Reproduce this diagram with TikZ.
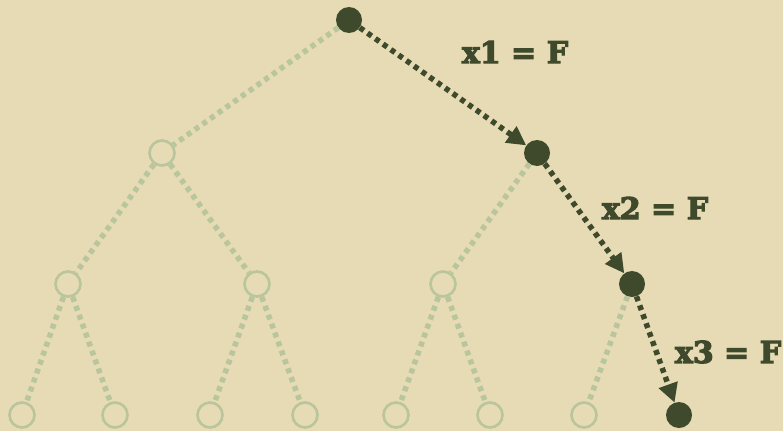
\documentclass[tikz,border=0pt]{standalone}
\usepackage{fontspec}
\newfontfamily\labelfont[BoldFeatures={FakeBold=4}]{DejaVu Serif}
\usepackage{tikz}
\usetikzlibrary{arrows.meta}
\definecolor{paper}{HTML}{E6DBB5}
\definecolor{moss}{HTML}{3E4A2B}
\definecolor{sage}{HTML}{B9C59C}

\begin{document}
\begin{tikzpicture}[
            x=1pt, y=-1pt,
            open/.style={circle, draw=sage, line width=2.6pt, fill=paper, minimum size=25pt, inner sep=0pt},
            taken/.style={circle, fill=moss, minimum size=26pt, inner sep=0pt},
            branch/.style={sage, line width=5.5pt, dash pattern=on 5pt off 4.5pt},
            chosen/.style={moss, line width=5.5pt, dash pattern=on 5pt off 4.5pt, -{Triangle[length=19pt, width=19pt]}},
            choice/.style={font=\labelfont\bfseries\fontsize{30}{33}\selectfont, text=moss, inner sep=0pt}
        ]
        \fill [paper] (0,0) rectangle (783,431);
        \useasboundingbox (0,0) rectangle (783,431);
        % nodes
        \node [taken] (root) at (349,20) {};
        \node [open] (l) at (162,153) {};
        \node [taken] (r) at (537,153) {};
        \node [open] (ll) at (68,284) {};
        \node [open] (lr) at (257,284) {};
        \node [open] (rl) at (443,284) {};
        \node [taken] (rr) at (632,284) {};
        \node [open] (lll) at (22,415) {};
        \node [open] (llr) at (115,415) {};
        \node [open] (lrl) at (210,415) {};
        \node [open] (lrr) at (305,415) {};
        \node [open] (rll) at (396,415) {};
        \node [open] (rlr) at (490,415) {};
        \node [open] (rrl) at (584,415) {};
        \node [taken] (rrr) at (679,415) {};
        % branches not taken
        \draw [branch] (root) -- (l);
        \draw [branch] (l) -- (ll);
        \draw [branch] (l) -- (lr);
        \draw [branch] (r) -- (rl);
        \draw [branch] (ll) -- (lll);
        \draw [branch] (ll) -- (llr);
        \draw [branch] (lr) -- (lrl);
        \draw [branch] (lr) -- (lrr);
        \draw [branch] (rl) -- (rll);
        \draw [branch] (rl) -- (rlr);
        \draw [branch] (rr) -- (rrl);
        % path taken
        \draw [chosen] (root) -- (r);
        \draw [chosen] (r) -- (rr);
        \draw [chosen] (rr) -- (rrr);
        \node [choice] (c1) at (515,52) {x1 = F};
        \node [choice] (c2) at (655,208) {x2 = F};
        \node [choice] (c3) at (728,352) {x3 = F};
    \end{tikzpicture}
\end{document}
